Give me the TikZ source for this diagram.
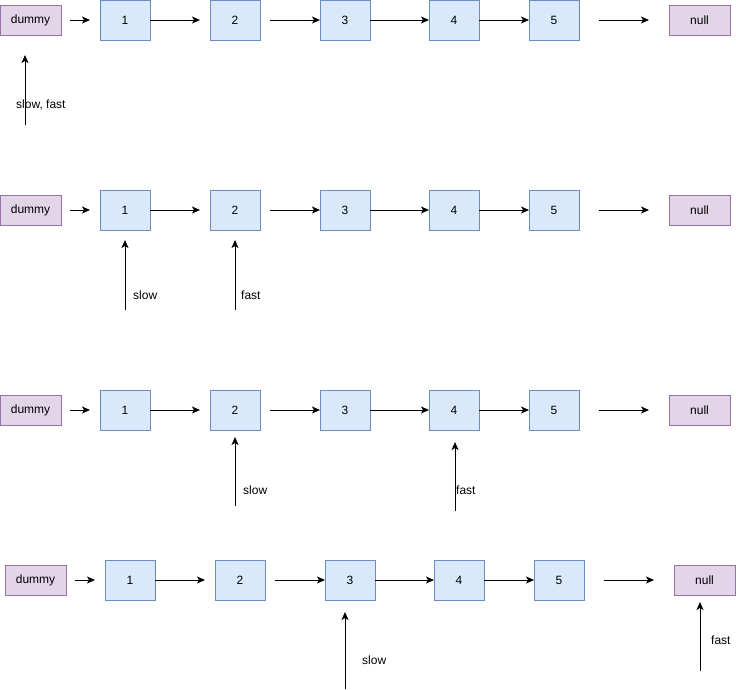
\documentclass[tikz,border=0pt]{standalone}
\usepackage{fontspec}
\setmainfont{Liberation Sans}
\usepackage{xcolor}
\usepackage{tikz}
\usetikzlibrary{arrows.meta, positioning}

\definecolor{itemfill}{HTML}{DAE8FC}
\definecolor{itemline}{HTML}{6C8EBF}
\definecolor{endfill}{HTML}{E1D5E7}
\definecolor{endline}{HTML}{9673A6}

\tikzset{
  item/.style={rectangle, draw=itemline, fill=itemfill, line width=0.8pt, minimum width=50pt, minimum height=40pt, inner sep=0pt, outer sep=0pt},
  endbox/.style={rectangle, draw=endline, fill=endfill, line width=0.8pt, minimum width=61pt, minimum height=30pt, inner sep=0pt, outer sep=0pt},
  link/.style={-{Stealth[length=8pt, width=7pt, inset=2pt]}, line width=1pt},
  tag/.style={anchor=west, inner sep=0pt}
}

\begin{document}
\begin{tikzpicture}[x=1pt, y=-1pt, font=\fontsize{12}{14}\selectfont]
\useasboundingbox (0,0) rectangle (736,689);

% the four lists
\foreach \r/\y/\dx in {1/20/0, 2/210/0, 3/410/0, 4/580/5} {
  \node (dummy\r) [endbox] at (30.5+\dx,\y) {dummy};
  \node (one\r) [item, right=39pt of dummy\r] {1};
  \node (two\r) [item, right=60pt of one\r] {2};
  \node (three\r) [item, right=60pt of two\r] {3};
  \node (four\r) [item, right=59pt of three\r] {4};
  \node (five\r) [item, right=50pt of four\r] {5};
  \node (null\r) [endbox, right=90pt of five\r] {null};
  \draw [link, shorten <=9pt, shorten >=10pt] (dummy\r) -- (one\r);
  \draw [link, shorten >=10pt] (one\r) -- (two\r);
  \draw [link, shorten <=10pt] (two\r) -- (three\r);
  \draw [link] (three\r) -- (four\r);
  \draw [link] (four\r) -- (five\r);
  \draw [link, shorten <=20pt, shorten >=20pt] (five\r) -- (null\r);
}

% pointers
\coordinate (both1) at (25,125);
\draw [link, shorten >=20pt] (both1) -- (both1 |- dummy1.south);
\node (bothtag1) [tag] at (16,105) {slow, fast};

\coordinate (slow2) at (125,310);
\draw [link, shorten >=10pt] (slow2) -- (slow2 |- one2.south);
\node (slowtag2) [tag] at (133,295) {slow};
\coordinate (fast2) at (235,310);
\draw [link, shorten >=10pt] (fast2) -- (fast2 |- two2.south);
\node (fasttag2) [tag] at (241,295) {fast};

\coordinate (slow3) at (235,506);
\draw [link, shorten >=7pt] (slow3) -- (slow3 |- two3.south);
\node (slowtag3) [tag] at (243,490) {slow};
\coordinate (fast3) at (455,511);
\draw [link, shorten >=12pt] (fast3) -- (fast3 |- four3.south);
\node (fasttag3) [tag] at (456,490) {fast};

\coordinate (slow4) at (345,689);
\draw [link, shorten >=12pt] (slow4) -- (slow4 |- three4.south);
\node (slowtag4) [tag] at (362,660) {slow};
\coordinate (fast4) at (700,671);
\draw [link, shorten >=7pt] (fast4) -- (fast4 |- null4.south);
\node (fasttag4) [tag] at (711,640) {fast};
\end{tikzpicture}
\end{document}
